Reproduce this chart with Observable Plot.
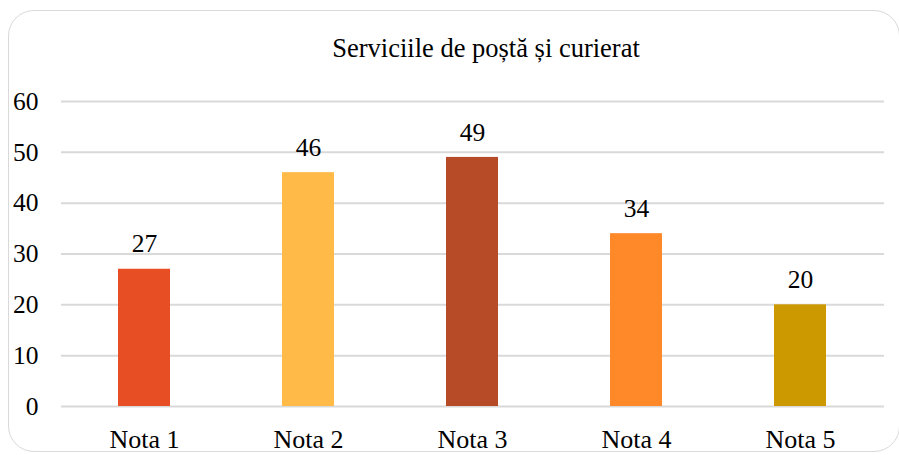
<!DOCTYPE html>
<html>
<head>
<meta charset="utf-8">
<script src="https://cdn.jsdelivr.net/npm/d3@7"></script>
<script src="https://cdn.jsdelivr.net/npm/@observablehq/plot@0.6"></script>
<style>
  html, body { margin: 0; padding: 0; background: #fff; }
  #wrap { position: relative; width: 899px; height: 455px; overflow: hidden; font-family: "Liberation Serif", "Times New Roman", serif; }
  #frame { position: absolute; left: 8px; top: 10px; width: 892px; height: 442px; border: 1.5px solid #d9d9d9; border-radius: 26px; box-sizing: border-box; }
  #title { position: absolute; top: 35px; left: 486px; transform: translateX(-50%); font-size: 26.5px; line-height: 26px; white-space: nowrap; color: #000; }
  #chart { position: absolute; left: 0; top: 0; }
</style>
</head>
<body>
<div id="wrap">
  <div id="frame"></div>
  <div id="chart"></div>
  <div id="title">Serviciile de poștă și curierat</div>
</div>
<script>
const categories = ["Nota 1", "Nota 2", "Nota 3", "Nota 4", "Nota 5"];
const values = [27, 46, 49, 34, 20];
const colors = ["#E84E24", "#FFBA47", "#B74B27", "#FF8829", "#CC9900"];
const yTicks = [0, 10, 20, 30, 40, 50, 60];

const data = categories.map((c, i) => ({ cat: c, value: values[i], color: colors[i] }));

const chart = Plot.plot({
  width: 899,
  height: 455,
  marginLeft: 61,
  marginRight: 15,
  marginTop: 101,
  marginBottom: 49,
  style: { fontFamily: "'Liberation Serif', 'Times New Roman', serif", color: "#000", background: "transparent" },
  x: { domain: categories, paddingInner: 0.68, paddingOuter: 0.34, label: null },
  y: { domain: [0, 60], label: null },
  marks: [
    Plot.ruleY(yTicks, { stroke: "#d9d9d9", strokeWidth: 2 }),
    Plot.barY(data, { x: "cat", y: "value", fill: "color" }),
    Plot.text(data, { x: "cat", y: "value", text: d => String(d.value), dy: -25, fontSize: 25.5, fill: "#000" }),
    Plot.axisY({ ticks: yTicks, tickSize: 0, tickPadding: 23, fontSize: 25.5, label: null }),
    Plot.axisX({ tickSize: 0, tickPadding: 23, fontSize: 26, label: null })
  ]
});
document.getElementById("chart").appendChild(chart);
</script>
</body>
</html>
